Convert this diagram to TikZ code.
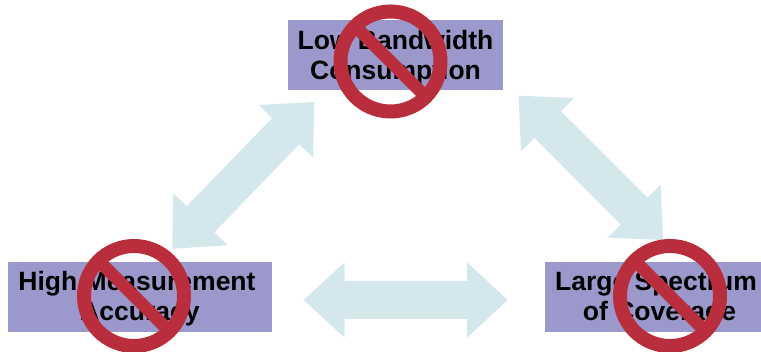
\documentclass[tikz,border=0pt]{standalone}
\usepackage{fontspec}
\setmainfont{Liberation Sans}
\definecolor{boxblue}{HTML}{9B99CB}
\definecolor{arrowblue}{HTML}{D3E7EC}
\definecolor{nored}{HTML}{B92D3C}
\tikzset{
    goalbox/.style={fill=boxblue,minimum height=70pt,inner sep=0pt,align=center,font=\fontsize{26.5}{30.5}\selectfont\bfseries},
    nosign/.style={circle,draw=nored,line width=14pt,minimum size=100pt,inner sep=0pt,outer sep=0pt},
    noslash/.style={draw=nored,line width=12.5pt}
}
\begin{document}
\begin{tikzpicture}[x=1pt,y=-1pt]
        \useasboundingbox (0,0) rectangle (761,352);
        \fill[arrowblue] (314.3,102)--(259,105)--(272,118.3)--(187,206)--(173.3,193.3)--(172.3,248.7)--(227.7,245.3)--(214.3,232.3)--(299.3,144.3)--(313,157.3)--cycle;
        \fill[arrowblue] (518.7,95.7)--(574,98)--(561,111.3)--(647.7,197.7)--(660.7,184.7)--(663,240)--(607.7,237.7)--(621,224.7)--(534.3,137.7)--(521,151)--cycle;
        \fill[arrowblue] (303.7,300)--(344.7,262.3)--(344.7,281)--(467,281)--(467,262.3)--(507.7,300)--(467,337.7)--(467,319)--(344.7,319)--(344.7,337.7)--cycle;

        \node[goalbox,minimum width=215pt] (bandwidth) at (395.5,55) {\rule{0pt}{25pt}Low Bandwidth\\Consumption};
        \node[goalbox,minimum width=264pt] (accuracy) at (140,297) {\rule{0pt}{23pt}High Measurement\hspace*{6pt}\\Accuracy};
        \node[goalbox,minimum width=216pt] (coverage) at (653,297) {\rule{0pt}{23pt}\hspace{6pt}Large Spectrum\\\hspace{13pt}of Coverage};

        \node[nosign] (bandwidthno) at (390.5,61.5) {};
        \draw[noslash] (bandwidthno.135) -- (bandwidthno.-45);
        \node[nosign] (accuracyno) at (134,296) {};
        \draw[noslash] (accuracyno.135) -- (accuracyno.-45);
        \node[nosign] (coverageno) at (670,296) {};
        \draw[noslash] (coverageno.135) -- (coverageno.-45);
    \end{tikzpicture}
\end{document}
